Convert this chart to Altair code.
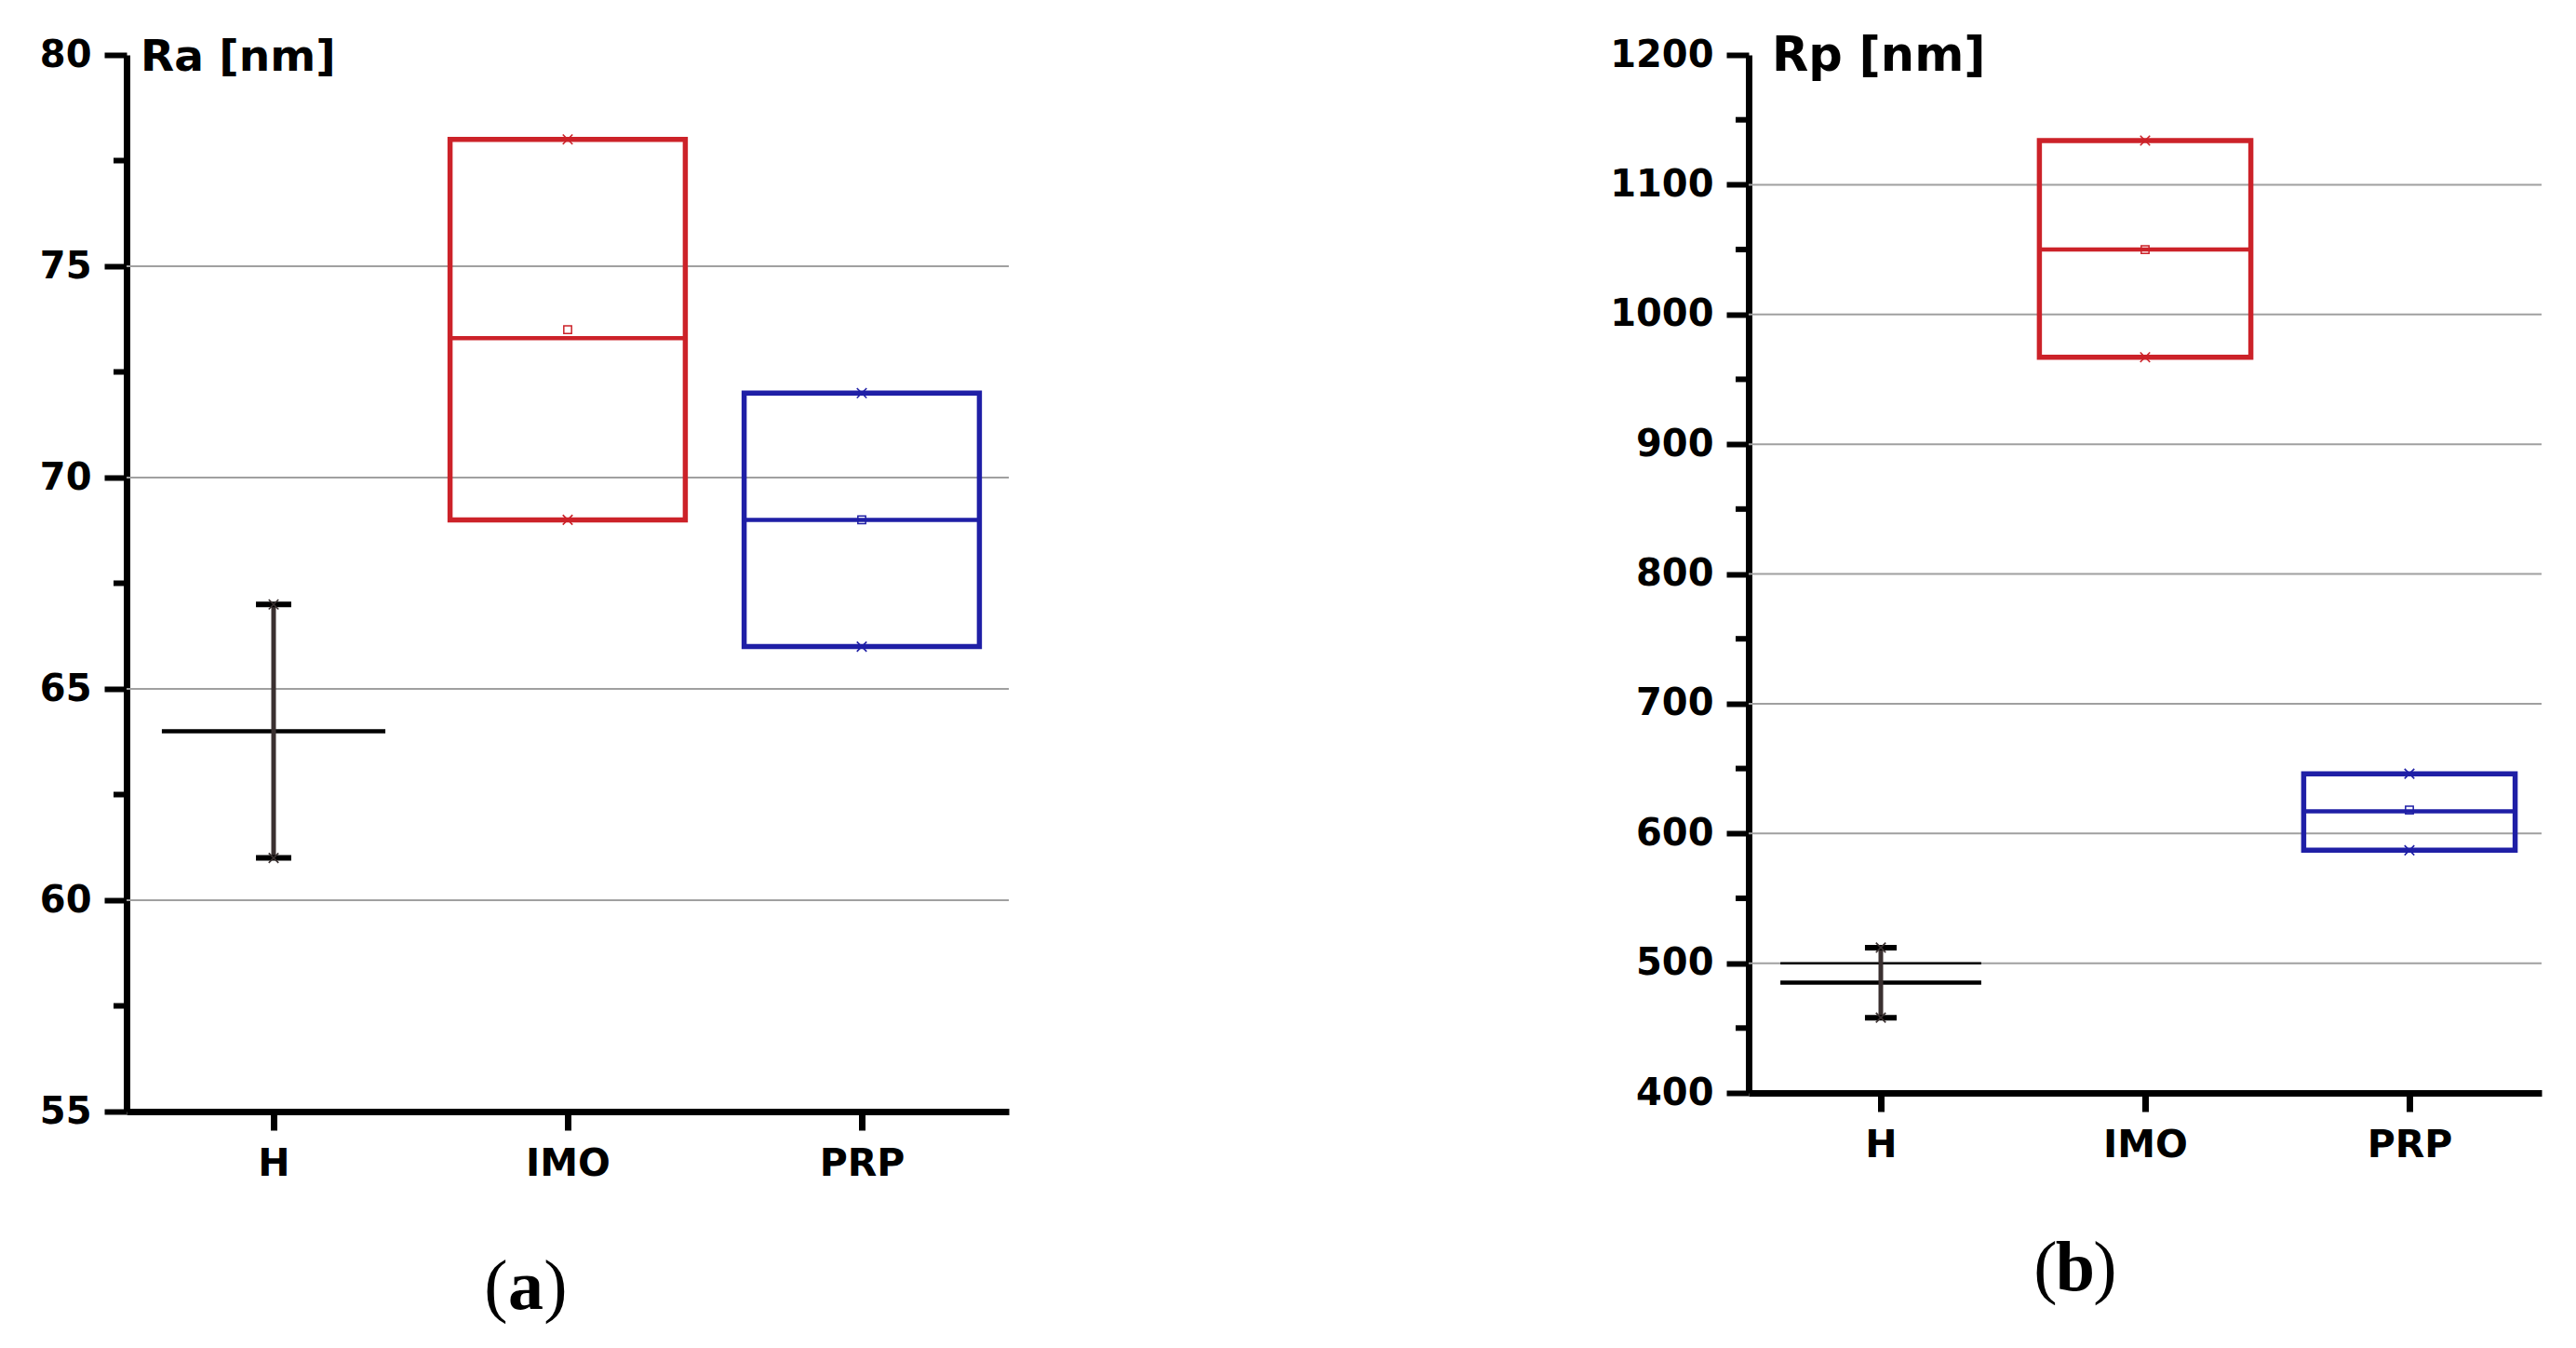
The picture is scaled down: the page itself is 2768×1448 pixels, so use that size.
import altair as alt
import pandas as pd

# ---------------- data ----------------
cats = ["H", "IMO", "PRP"]
cat_pos = [1, 2, 3]

# (a) Ra [nm]
ra_box_low = [None, 69.0, 66.0]
ra_box_high = [None, 78.0, 72.0]
ra_median = [64.0, 73.3, 69.0]
ra_mean = [None, 73.5, 69.0]
ra_min = [61.0, 69.0, 66.0]
ra_max = [67.0, 78.0, 72.0]
ra_ticks = [55, 60, 65, 70, 75, 80]
ra_grid = [60, 65, 70, 75]
ra_minor = [57.5, 62.5, 67.5, 72.5, 77.5]

# (b) Rp [nm]
rp_box_low = [None, 967, 587]
rp_box_high = [None, 1134, 646]
rp_median = [485, 1050, 617]
rp_mean = [None, 1050, 618]
rp_min = [458, 967, 587]
rp_max = [512, 1134, 646]
rp_h_upper = [500]
rp_ticks = [400, 500, 600, 700, 800, 900, 1000, 1100, 1200]
rp_grid = [500, 600, 700, 800, 900, 1000, 1100]
rp_minor = [450, 550, 650, 750, 850, 950, 1050, 1150]

# ---------------- style ----------------
COLORS = {"H": "#3a3030", "IMO": "#cc2229", "PRP": "#1f1fa6"}
TICK_FONT = "DejaVu Sans"
TITLE_FONT = "DejaVu Sans"
SERIF = "Liberation Serif"
BOX_HALF = 0.40
H_HALF = 0.38
CAP_HALF = 0.06

stroke_scale = alt.Scale(domain=cats, range=[COLORS[c] for c in cats])
XMARK = "M-1,-1L1,1M1,-1L-1,1"


def panel(box_low, box_high, median, mean, vmin, vmax, ticks, grid, minor,
          ydom, width, height, title, title_dx, title_size, letter, letter_cx,
          extra_lines=None):
    df = pd.DataFrame({
        "cat": cats, "pos": cat_pos,
        "low": box_low, "high": box_high, "median": median, "mean": mean,
        "vmin": vmin, "vmax": vmax,
    })
    is_h = df["cat"] == "H"
    df["xl"] = df["pos"] - BOX_HALF
    df["xr"] = df["pos"] + BOX_HALF
    df.loc[is_h, "xl"] = df.loc[is_h, "pos"] - H_HALF
    df.loc[is_h, "xr"] = df.loc[is_h, "pos"] + H_HALF
    df["cl"] = df["pos"] - CAP_HALF
    df["cr"] = df["pos"] + CAP_HALF

    xscale = alt.Scale(domain=[0.5, 3.5], nice=False, zero=False)
    yscale = alt.Scale(domain=ydom, nice=False, zero=False)

    label_expr = "datum.value == 1 ? 'H' : datum.value == 2 ? 'IMO' : 'PRP'"
    xaxis = alt.Axis(values=cat_pos, labelExpr=label_expr, title=None, grid=False,
                     domainColor="black", domainWidth=7, tickColor="black",
                     tickWidth=7, tickSize=20, labelFont=TICK_FONT,
                     labelFontSize=41, labelFontWeight="bold", labelColor="black",
                     labelPadding=16)
    yaxis = alt.Axis(values=ticks, format="d", title=None, grid=False,
                     domainColor="black", domainWidth=7, tickColor="black",
                     tickWidth=6, tickSize=24, labelFont=TICK_FONT,
                     labelFontSize=40, labelFontWeight="bold", labelColor="black",
                     labelPadding=14)

    grid_df = pd.DataFrame({"g": grid})
    gridl = alt.Chart(grid_df).mark_rule(color="#a0a0a0", strokeWidth=2).encode(
        x=alt.value(0), x2=alt.value(width),
        y=alt.Y("g:Q", scale=yscale, axis=yaxis))

    minor_df = pd.DataFrame({"m": minor})
    minors = alt.Chart(minor_df).mark_rule(color="black", strokeWidth=6).encode(
        x=alt.value(-14), x2=alt.value(0), y=alt.Y("m:Q", scale=yscale))

    boxdf = df[~is_h]
    boxes = alt.Chart(boxdf).mark_rect(fillOpacity=0, strokeWidth=5.5).encode(
        x=alt.X("xl:Q", scale=xscale, axis=xaxis), x2="xr:Q",
        y=alt.Y("low:Q", scale=yscale), y2="high:Q",
        stroke=alt.Stroke("cat:N", scale=stroke_scale, legend=None))

    meds = alt.Chart(df).mark_rule(strokeWidth=4.5).encode(
        x=alt.X("xl:Q", scale=xscale), x2="xr:Q",
        y=alt.Y("median:Q", scale=yscale),
        color=alt.condition("datum.cat == 'H'", alt.value("black"),
                            alt.Color("cat:N", scale=stroke_scale, legend=None)))

    hdf = df[is_h]
    whisk = alt.Chart(hdf).mark_rule(strokeWidth=5, color=COLORS["H"]).encode(
        x=alt.X("pos:Q", scale=xscale), y=alt.Y("vmin:Q", scale=yscale), y2="vmax:Q")
    cap_lo = alt.Chart(hdf).mark_rule(strokeWidth=6, color="black").encode(
        x=alt.X("cl:Q", scale=xscale), x2="cr:Q", y=alt.Y("vmin:Q", scale=yscale))
    cap_hi = alt.Chart(hdf).mark_rule(strokeWidth=6, color="black").encode(
        x=alt.X("cl:Q", scale=xscale), x2="cr:Q", y=alt.Y("vmax:Q", scale=yscale))

    mk_max = alt.Chart(df).mark_point(shape=XMARK, filled=False, size=110,
                                      strokeWidth=1.6, opacity=1).encode(
        x=alt.X("pos:Q", scale=xscale), y=alt.Y("vmax:Q", scale=yscale),
        stroke=alt.Stroke("cat:N", scale=stroke_scale, legend=None))
    mk_min = alt.Chart(df).mark_point(shape=XMARK, filled=False, size=110,
                                      strokeWidth=1.6, opacity=1).encode(
        x=alt.X("pos:Q", scale=xscale), y=alt.Y("vmin:Q", scale=yscale),
        stroke=alt.Stroke("cat:N", scale=stroke_scale, legend=None))
    mk_mean = alt.Chart(df.dropna(subset=["mean"])).mark_point(
        shape="square", filled=False, size=70, strokeWidth=1.5, opacity=1).encode(
        x=alt.X("pos:Q", scale=xscale), y=alt.Y("mean:Q", scale=yscale),
        stroke=alt.Stroke("cat:N", scale=stroke_scale, legend=None))

    title_df = pd.DataFrame({"t": [title]})
    ttl = alt.Chart(title_df).mark_text(
        align="left", baseline="alphabetic", font=TITLE_FONT, fontWeight="bold",
        fontSize=title_size, color="black").encode(
        x=alt.value(title_dx), y=alt.value(17), text="t:N")

    lab_y = height + 212
    lp = alt.Chart(pd.DataFrame({"t": ["("]})).mark_text(
        align="center", baseline="alphabetic", font=SERIF, fontSize=76,
        color="black").encode(x=alt.value(letter_cx - 32), y=alt.value(lab_y), text="t:N")
    la = alt.Chart(pd.DataFrame({"t": [letter]})).mark_text(
        align="center", baseline="alphabetic", font=SERIF, fontSize=76,
        fontWeight="bold", color="black").encode(
        x=alt.value(letter_cx), y=alt.value(lab_y), text="t:N")
    rp = alt.Chart(pd.DataFrame({"t": [")"]})).mark_text(
        align="center", baseline="alphabetic", font=SERIF, fontSize=76,
        color="black").encode(x=alt.value(letter_cx + 32), y=alt.value(lab_y), text="t:N")

    layers = [gridl, minors, boxes, meds, whisk, cap_lo, cap_hi, mk_max, mk_min,
              mk_mean, ttl, lp, la, rp]
    if extra_lines is not None:
        ex_df = pd.DataFrame({"v": extra_lines, "pos": [1]})
        ex_df["xl"] = ex_df["pos"] - H_HALF
        ex_df["xr"] = ex_df["pos"] + H_HALF
        ex = alt.Chart(ex_df).mark_rule(color="black", strokeWidth=2.5).encode(
            x=alt.X("xl:Q", scale=xscale), x2="xr:Q", y=alt.Y("v:Q", scale=yscale))
        layers.insert(1, ex)
    return alt.layer(*layers).properties(width=width, height=height)


left = panel(ra_box_low, ra_box_high, ra_median, ra_mean, ra_min, ra_max,
             ra_ticks, ra_grid, ra_minor, [55, 80], 948, 1135, "Ra [nm]", 15, 47,
             "a", 429)
right = panel(rp_box_low, rp_box_high, rp_median, rp_mean, rp_min, rp_max,
              rp_ticks, rp_grid, rp_minor, [400, 1200], 852, 1115, "Rp [nm]", 25, 51,
              "b", 351, extra_lines=rp_h_upper)

chart = alt.hconcat(left, right, spacing=795, bounds="flush").resolve_scale(
    x="independent", y="independent", stroke="shared", color="shared"
).properties(
    background="white",
    padding={"left": 34, "top": 27, "right": 5, "bottom": 5},
).configure_view(strokeWidth=0)

chart.save("out.html", embed_options={"renderer": "svg", "actions": False})
